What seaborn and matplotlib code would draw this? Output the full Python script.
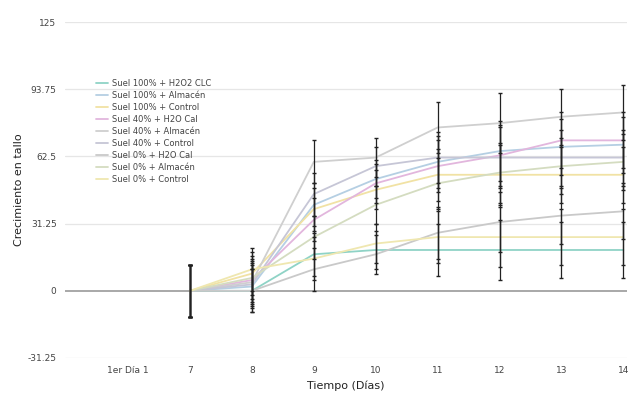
import numpy as np
import pandas as pd
import matplotlib
matplotlib.use("Agg")
import matplotlib.pyplot as plt
import seaborn as sns

# datos
dias = ["1er Día 1", "7", "8", "9", "10", "11", "12", "13", "14"]
tratamientos = [
    "Suel 100% + H2O2 CLC",
    "Suel 100% + Almacén",
    "Suel 100% + Control",
    "Suel 40% + H2O Cal",
    "Suel 40% + Almacén",
    "Suel 40% + Control",
    "Suel 0% + H2O Cal",
    "Suel 0% + Almacén",
    "Suel 0% + Control",
]
s1 = [np.nan, 0, 0, 17, 19, 19, 19, 19, 19]
s2 = [np.nan, 0, 2, 40, 52, 60, 65, 67, 68]
s3 = [np.nan, 0, 8, 38, 47, 54, 54, 54, 54]
s4 = [np.nan, 0, 5, 33, 50, 58, 63, 70, 70]
s5 = [np.nan, 0, 4, 60, 62, 76, 78, 81, 83]
s6 = [np.nan, 0, 3, 45, 58, 62, 62, 62, 62]
s7 = [np.nan, 0, 0, 10, 17, 27, 32, 35, 37]
s8 = [np.nan, 0, 6, 25, 40, 50, 55, 58, 60]
s9 = [np.nan, 0, 10, 15, 22, 25, 25, 25, 25]
error = [np.nan, 12, 10, 10, 9, 12, 14, 13, 13]

series = [s1, s2, s3, s4, s5, s6, s7, s8, s9]
colores = ["#8fd3c6", "#b5cfe3", "#f1e2a4", "#e2b6dd", "#cfcfcf",
           "#c6c6d6", "#c9c9c9", "#d4dcc0", "#efe7b0"]

df = pd.DataFrame(
    [(i, t, v) for t, s in zip(tratamientos, series) for i, v in enumerate(s)],
    columns=["x", "trat", "valor"],
)

sns.set_theme(style="white")
plt.rcParams['font.family'] = ['DejaVu Sans']

fig = plt.figure(figsize=(6.36, 3.96), dpi=100)
ax = fig.add_axes([0.102, 0.096, 0.884, 0.848])

for y in [-31.25, 31.25, 62.5, 93.75, 125]:
    ax.axhline(y, color="#e6e6e6", lw=0.9, zorder=0)
ax.axhline(0, color="#9a9a9a", lw=1.2, zorder=0)

sns.lineplot(data=df, x="x", y="valor", hue="trat",
             palette=dict(zip(tratamientos, colores)), linewidth=1.3,
             ax=ax, legend=True, zorder=2)

for s in series:
    ax.errorbar(range(len(dias)), s, yerr=error, fmt="none",
                ecolor="#222222", elinewidth=0.9, capsize=1.5, zorder=3)

ax.set_xlim(-1.02, 8.06)
ax.set_ylim(-31.25, 125)
ax.set_xticks(range(len(dias)))
ax.set_xticklabels(dias)
ax.set_yticks([-31.25, 0, 31.25, 62.5, 93.75, 125])
ax.set_yticklabels(["-31.25", "0", "31.25", "62.5", "93.75", "125"])
ax.tick_params(axis="both", labelsize=6.5, colors="#444444", length=0, pad=6)
sns.despine(ax=ax, left=True, bottom=True)

ax.set_xlabel("Tiempo (Días)", fontsize=8, color="#222222", labelpad=4)
ax.set_ylabel("Crecimiento en tallo", fontsize=8, color="#222222")
ax.yaxis.set_label_coords(-0.072, 0.5)

leg = ax.legend(loc="upper left", bbox_to_anchor=(0.05, 0.84), frameon=False,
                fontsize=6, handlelength=1.4, labelspacing=0.35,
                handletextpad=0.5, borderaxespad=0)
for t in leg.get_texts():
    t.set_color("#444444")

fig.savefig("out.png", dpi=100)
